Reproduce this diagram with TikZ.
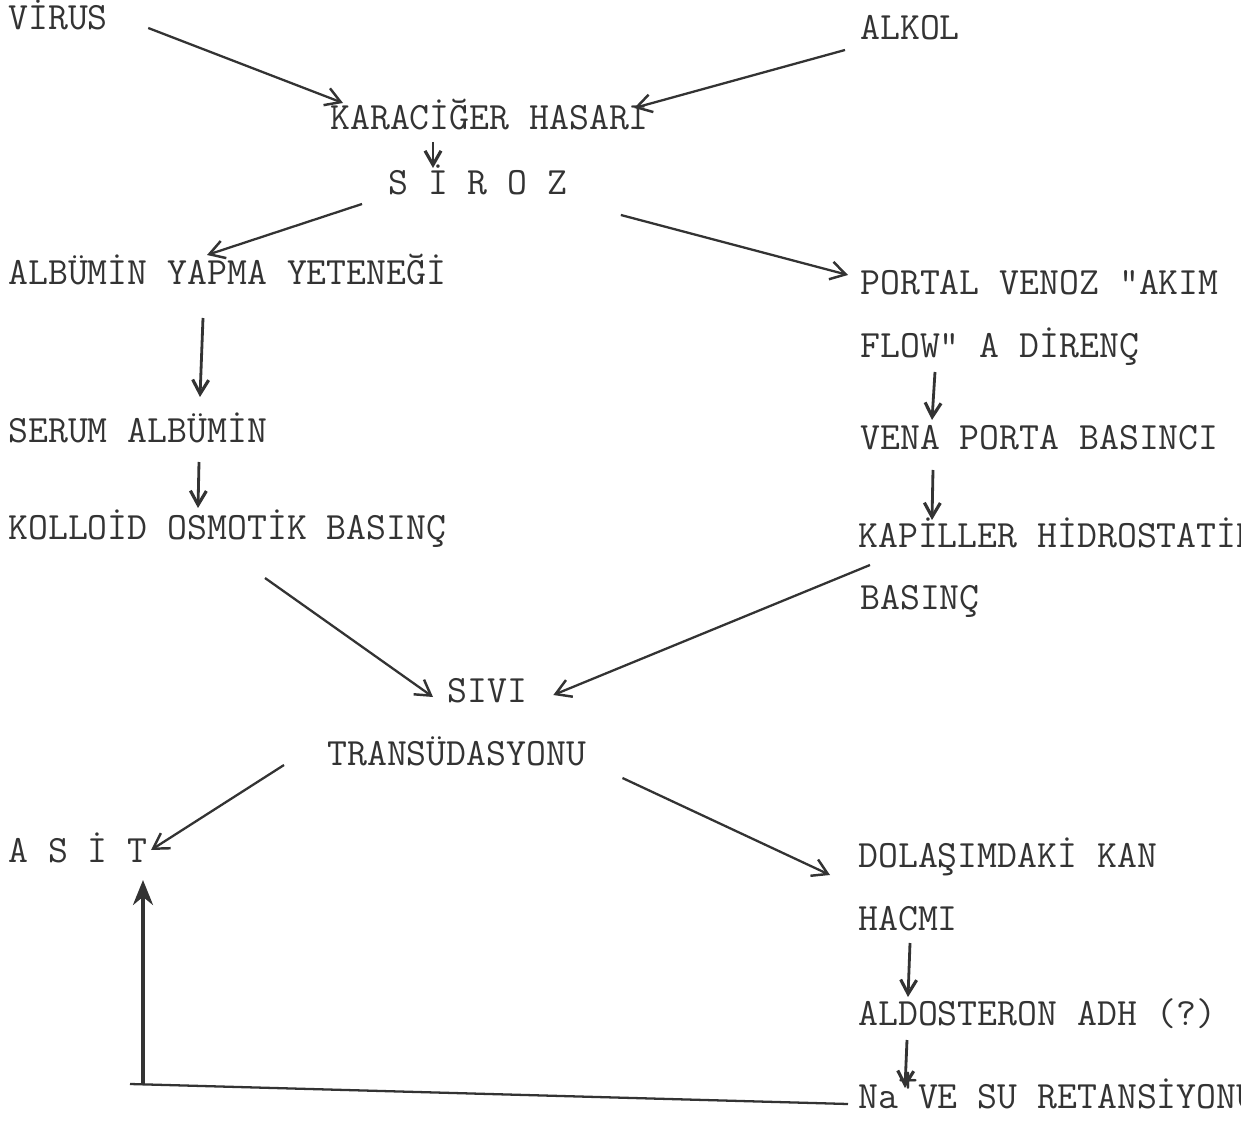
\documentclass[tikz,border=0pt]{standalone}
\usetikzlibrary{arrows.meta}
\definecolor{ink}{rgb}{0.2,0.2,0.2}
\tikzset{
  lbl/.style={anchor=base west, inner sep=0pt, text=ink, font=\ttfamily\fontsize{22}{24}\selectfont},
  arr/.style={draw=ink, line width=1.3pt, -{Straight Barb[length=3mm,width=3.6mm,line width=1.4pt]}},
  down/.style={draw=ink, line width=1.6pt, -{Straight Barb[length=2.8mm,width=3.2mm,line width=1.8pt]}},
  up/.style={draw=ink, line width=2.2pt, -{Stealth[length=5mm,width=4mm]}},
}

\begin{document}
\begin{tikzpicture}[x=0.02cm, y=-0.02cm]
\useasboundingbox (0,0) rectangle (1241,1131);
\clip (0,0) rectangle (1241,1131);
\node [lbl] (virus) at (8,30) {VİRUS};
\node [lbl] (alkol) at (860,40) {ALKOL};
\node [lbl] (hasar) at (330,130) {KARACİĞER HASARI};
\node [lbl] (siroz) at (388,195) {S İ R O Z};
\node [lbl] (albumin) at (8,285) {ALBÜMİN YAPMA YETENEĞİ};
\node [lbl] (portal) at (860,295) {PORTAL VENOZ "AKIM};
\node [lbl] (flow) at (860,358) {FLOW" A DİRENÇ};
\node [lbl] (serum) at (8,443) {SERUM ALBÜMİN};
\node [lbl] (vena) at (860,450) {VENA PORTA BASINCI};
\node [lbl] (kolloid) at (8,540) {KOLLOİD OSMOTİK BASINÇ};
\node [lbl] (kapiller) at (858,548) {KAPİLLER HİDROSTATİK};
\node [lbl] (basinc) at (860,610) {BASINÇ};
\node [lbl] (sivi) at (447,702) {SIVI};
\node [lbl] (transud) at (327,765) {TRANSÜDASYONU};
\node [lbl] (asit) at (8,862) {A S İ T};
\node [lbl] (dolasim) at (858,867) {DOLAŞIMDAKİ KAN};
\node [lbl] (hacim) at (858,930) {HACMI};
\node [lbl] (aldo) at (858,1025) {ALDOSTERON ADH (?)};
\node [lbl] (na) at (858,1108) {Na\raisebox{0.4em}{+}VE SU RETANSİYONU};
\coordinate (corner) at (143,1084);

\draw [arr] ([shift={(40,-2)}]virus.base east) -- ([shift={(13,-27)}]hasar.base west);
\draw [arr] ([shift={(-15,10)}]alkol.base west) -- ([shift={(-15,-22)}]hasar.base east);
\draw [down] ([shift={(103,12)}]hasar.base west) -- ([shift={(45,-27)}]siroz.base west);
\draw [arr] ([shift={(-26,9)}]siroz.base west) -- ([shift={(199,-30)}]albumin.base west);
\draw [arr] ([shift={(53,20)}]siroz.base east) -- ([shift={(-12,-20)}]portal.base west);
\draw [down] ([shift={(195,33)}]albumin.base west) -- ([shift={(192,-46)}]serum.base west);
\draw [down] ([shift={(191,19)}]serum.base west) -- ([shift={(190,-32)}]kolloid.base west);
\draw [down] ([shift={(75,14)}]flow.base west) -- ([shift={(72,-30)}]vena.base west);
\draw [down] ([shift={(73,20)}]vena.base west) -- ([shift={(74,-28)}]kapiller.base west);
\draw [arr] ([shift={(257,38)}]kolloid.base west) -- ([shift={(-14,-5)}]sivi.base west);
\draw [arr] ([shift={(12,17)}]kapiller.base west) -- ([shift={(26,-7)}]sivi.base east);
\draw [arr] ([shift={(-43,0)}]transud.base west) -- ([shift={(3,-12)}]asit.base east);
\draw [arr] ([shift={(36,13)}]transud.base east) -- ([shift={(-28,8)}]dolasim.base west);
\draw [down] ([shift={(52,13)}]hacim.base west) -- ([shift={(50,-28)}]aldo.base west);
\draw [down] ([shift={(49,15)}]aldo.base west) -- ([shift={(47,-20)}]na.base west);
\draw [draw=ink, line width=1.3pt] ([shift={(-10,-4)}]na.base west) -- ([xshift=-0.26cm]corner);
\draw [up] (corner) -- ([shift={(135,18)}]asit.base west);
\end{tikzpicture}
\end{document}
